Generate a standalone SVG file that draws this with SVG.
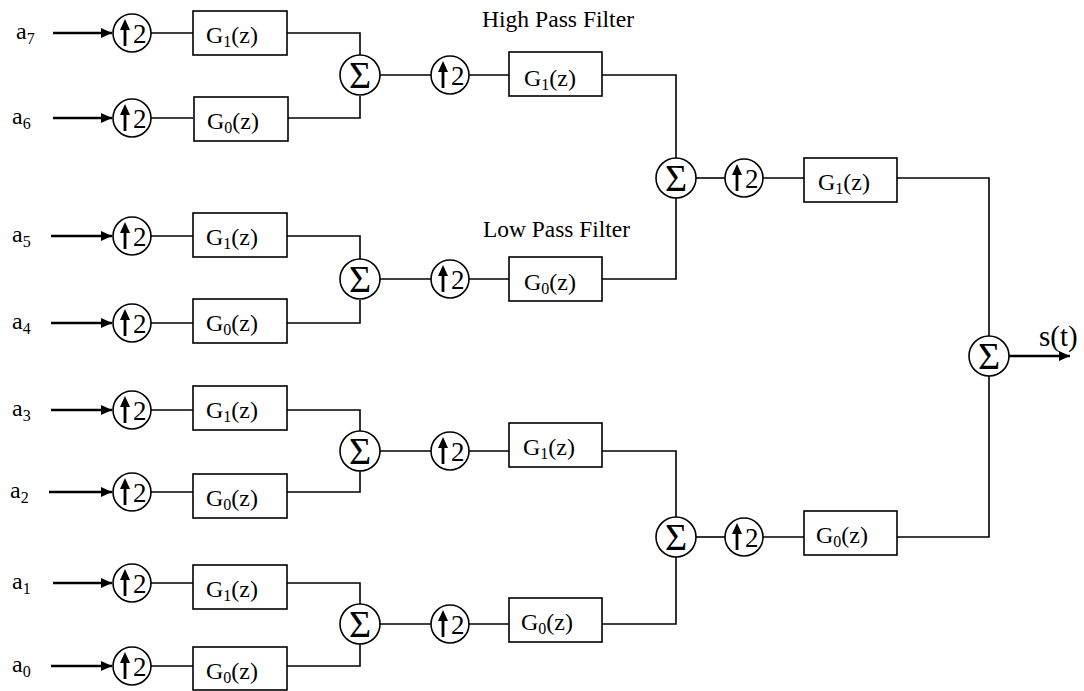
<svg xmlns="http://www.w3.org/2000/svg" width="1084" height="691" viewBox="0 0 1084 691">
<style>
.ln{fill:none;stroke:#000;stroke-width:1.6}
.in{fill:none;stroke:#000;stroke-width:2.6}
.bx{fill:#fff;stroke:#000;stroke-width:1.6}
.cr{fill:#fff;stroke:#000;stroke-width:1.6}
.t{font-family:"Liberation Serif","Times New Roman",serif;fill:#000}
.g{font-size:24px}
.sub{font-size:16px}
.two{font-size:27px}
.sig{font-size:38px;text-anchor:middle}
.lab{font-size:24px}
.ttl{font-size:24px}
.ua{stroke:#000;stroke-width:2.8}
</style>
<defs>
<marker id="ah" markerUnits="userSpaceOnUse" markerWidth="12" markerHeight="10" refX="11" refY="5" orient="auto">
<path d="M0,0 L11,5 L0,10 Z" fill="#000"/>
</marker>
</defs>

<g id="connectors">
<line class="in" x1="53" y1="33" x2="112" y2="33" marker-end="url(#ah)"/>
<line class="in" x1="53" y1="118" x2="112" y2="118" marker-end="url(#ah)"/>
<line class="in" x1="51" y1="236" x2="112" y2="236" marker-end="url(#ah)"/>
<line class="in" x1="51" y1="323" x2="112" y2="323" marker-end="url(#ah)"/>
<line class="in" x1="51" y1="410" x2="112" y2="410" marker-end="url(#ah)"/>
<line class="in" x1="49" y1="492" x2="112" y2="492" marker-end="url(#ah)"/>
<line class="in" x1="53" y1="583" x2="112" y2="583" marker-end="url(#ah)"/>
<line class="in" x1="51" y1="666" x2="112" y2="666" marker-end="url(#ah)"/>
<line class="ln" x1="151" y1="33" x2="193" y2="33"/>
<line class="ln" x1="151" y1="118" x2="193" y2="118"/>
<line class="ln" x1="151" y1="236" x2="193" y2="236"/>
<line class="ln" x1="151" y1="323" x2="193" y2="323"/>
<line class="ln" x1="151" y1="410" x2="193" y2="410"/>
<line class="ln" x1="151" y1="492" x2="193" y2="492"/>
<line class="ln" x1="151" y1="583" x2="193" y2="583"/>
<line class="ln" x1="151" y1="666" x2="193" y2="666"/>
<polyline class="ln" points="287,33 360,33 360,55"/>
<polyline class="ln" points="287,118 360,118 360,96"/>
<polyline class="ln" points="287,236 360,236 360,259"/>
<polyline class="ln" points="287,323 360,323 360,300"/>
<polyline class="ln" points="287,410 360,410 360,431"/>
<polyline class="ln" points="287,492 360,492 360,471"/>
<polyline class="ln" points="287,583 360,583 360,604"/>
<polyline class="ln" points="287,666 360,666 360,644"/>
<line class="ln" x1="380" y1="75" x2="431" y2="75"/>
<line class="ln" x1="469" y1="75" x2="509" y2="75"/>
<line class="ln" x1="380" y1="279" x2="431" y2="279"/>
<line class="ln" x1="469" y1="279" x2="509" y2="279"/>
<line class="ln" x1="380" y1="451" x2="431" y2="451"/>
<line class="ln" x1="469" y1="451" x2="509" y2="451"/>
<line class="ln" x1="380" y1="624" x2="431" y2="624"/>
<line class="ln" x1="469" y1="624" x2="509" y2="624"/>
<polyline class="ln" points="602,75 676,75 676,158"/>
<polyline class="ln" points="602,279 676,279 676,198"/>
<polyline class="ln" points="602,451 676,451 676,517"/>
<polyline class="ln" points="602,624 676,624 676,557"/>
<line class="ln" x1="696" y1="178" x2="725" y2="178"/>
<line class="ln" x1="763" y1="178" x2="804" y2="178"/>
<line class="ln" x1="696" y1="537" x2="725" y2="537"/>
<line class="ln" x1="763" y1="537" x2="804" y2="537"/>
<polyline class="ln" points="897,178 989,178 989,336"/>
<polyline class="ln" points="897,537 989,537 989,376"/>
<line class="in" x1="1009" y1="356" x2="1070" y2="356" marker-end="url(#ah)"/>
</g>

<g id="labels">
<text class="t lab" x="16" y="39">a<tspan class="sub" dy="5">7</tspan></text>
<text class="t lab" x="12" y="124">a<tspan class="sub" dy="5">6</tspan></text>
<text class="t lab" x="12" y="242">a<tspan class="sub" dy="5">5</tspan></text>
<text class="t lab" x="12" y="329">a<tspan class="sub" dy="5">4</tspan></text>
<text class="t lab" x="12" y="416">a<tspan class="sub" dy="5">3</tspan></text>
<text class="t lab" x="10" y="498">a<tspan class="sub" dy="5">2</tspan></text>
<text class="t lab" x="12" y="589">a<tspan class="sub" dy="5">1</tspan></text>
<text class="t lab" x="12" y="672">a<tspan class="sub" dy="5">0</tspan></text>
<text class="t ttl" x="482" y="27" textLength="152" lengthAdjust="spacingAndGlyphs">High Pass Filter</text>
<text class="t ttl" x="483" y="237" textLength="147" lengthAdjust="spacingAndGlyphs">Low Pass Filter</text>
<text class="t" x="1039" y="346" font-size="29">s(t)</text>
</g>

<g id="up_a7" transform="translate(132,33)"><circle class="cr" r="19"/><line class="ua" x1="-7" y1="13" x2="-7" y2="-4"/><path d="M-7,-14 L-12,-3 L-2,-3 Z"/><text class="t two" x="1" y="10">2</text></g>
<g id="up_a6" transform="translate(132,118)"><circle class="cr" r="19"/><line class="ua" x1="-7" y1="13" x2="-7" y2="-4"/><path d="M-7,-14 L-12,-3 L-2,-3 Z"/><text class="t two" x="1" y="10">2</text></g>
<g id="up_a5" transform="translate(132,236)"><circle class="cr" r="19"/><line class="ua" x1="-7" y1="13" x2="-7" y2="-4"/><path d="M-7,-14 L-12,-3 L-2,-3 Z"/><text class="t two" x="1" y="10">2</text></g>
<g id="up_a4" transform="translate(132,323)"><circle class="cr" r="19"/><line class="ua" x1="-7" y1="13" x2="-7" y2="-4"/><path d="M-7,-14 L-12,-3 L-2,-3 Z"/><text class="t two" x="1" y="10">2</text></g>
<g id="up_a3" transform="translate(132,410)"><circle class="cr" r="19"/><line class="ua" x1="-7" y1="13" x2="-7" y2="-4"/><path d="M-7,-14 L-12,-3 L-2,-3 Z"/><text class="t two" x="1" y="10">2</text></g>
<g id="up_a2" transform="translate(132,492)"><circle class="cr" r="19"/><line class="ua" x1="-7" y1="13" x2="-7" y2="-4"/><path d="M-7,-14 L-12,-3 L-2,-3 Z"/><text class="t two" x="1" y="10">2</text></g>
<g id="up_a1" transform="translate(132,583)"><circle class="cr" r="19"/><line class="ua" x1="-7" y1="13" x2="-7" y2="-4"/><path d="M-7,-14 L-12,-3 L-2,-3 Z"/><text class="t two" x="1" y="10">2</text></g>
<g id="up_a0" transform="translate(132,666)"><circle class="cr" r="19"/><line class="ua" x1="-7" y1="13" x2="-7" y2="-4"/><path d="M-7,-14 L-12,-3 L-2,-3 Z"/><text class="t two" x="1" y="10">2</text></g>

<g id="g_a7"><rect class="bx" x="193" y="11" width="94" height="44"/><text class="t g" x="206" y="43">G<tspan class="sub" dy="4">1</tspan><tspan dy="-4">(z)</tspan></text></g>
<g id="g_a6"><rect class="bx" x="194" y="97" width="94" height="44"/><text class="t g" x="207" y="129">G<tspan class="sub" dy="4">0</tspan><tspan dy="-4">(z)</tspan></text></g>
<g id="g_a5"><rect class="bx" x="193" y="213" width="94" height="44"/><text class="t g" x="206" y="245">G<tspan class="sub" dy="4">1</tspan><tspan dy="-4">(z)</tspan></text></g>
<g id="g_a4"><rect class="bx" x="193" y="299" width="94" height="44"/><text class="t g" x="206" y="331">G<tspan class="sub" dy="4">0</tspan><tspan dy="-4">(z)</tspan></text></g>
<g id="g_a3"><rect class="bx" x="193" y="386" width="94" height="44"/><text class="t g" x="206" y="418">G<tspan class="sub" dy="4">1</tspan><tspan dy="-4">(z)</tspan></text></g>
<g id="g_a2"><rect class="bx" x="193" y="474" width="94" height="44"/><text class="t g" x="206" y="506">G<tspan class="sub" dy="4">0</tspan><tspan dy="-4">(z)</tspan></text></g>
<g id="g_a1"><rect class="bx" x="193" y="565" width="94" height="44"/><text class="t g" x="206" y="597">G<tspan class="sub" dy="4">1</tspan><tspan dy="-4">(z)</tspan></text></g>
<g id="g_a0"><rect class="bx" x="193" y="647" width="94" height="43"/><text class="t g" x="206" y="679">G<tspan class="sub" dy="4">0</tspan><tspan dy="-4">(z)</tspan></text></g>

<g id="sum_76"><circle class="cr" cx="360" cy="75" r="20"/><text class="t sig" x="360" y="88">Σ</text></g>
<g id="sum_54"><circle class="cr" cx="360" cy="279" r="20"/><text class="t sig" x="360" y="292">Σ</text></g>
<g id="sum_32"><circle class="cr" cx="360" cy="451" r="20"/><text class="t sig" x="360" y="464">Σ</text></g>
<g id="sum_10"><circle class="cr" cx="360" cy="624" r="20"/><text class="t sig" x="360" y="637">Σ</text></g>

<g id="up2_a" transform="translate(450,75)"><circle class="cr" r="19"/><line class="ua" x1="-7" y1="13" x2="-7" y2="-4"/><path d="M-7,-14 L-12,-3 L-2,-3 Z"/><text class="t two" x="1" y="10">2</text></g>
<g id="up2_b" transform="translate(450,279)"><circle class="cr" r="19"/><line class="ua" x1="-7" y1="13" x2="-7" y2="-4"/><path d="M-7,-14 L-12,-3 L-2,-3 Z"/><text class="t two" x="1" y="10">2</text></g>
<g id="up2_c" transform="translate(450,451)"><circle class="cr" r="19"/><line class="ua" x1="-7" y1="13" x2="-7" y2="-4"/><path d="M-7,-14 L-12,-3 L-2,-3 Z"/><text class="t two" x="1" y="10">2</text></g>
<g id="up2_d" transform="translate(450,624)"><circle class="cr" r="19"/><line class="ua" x1="-7" y1="13" x2="-7" y2="-4"/><path d="M-7,-14 L-12,-3 L-2,-3 Z"/><text class="t two" x="1" y="10">2</text></g>

<g id="g2_a"><rect class="bx" x="509" y="52" width="93" height="44"/><text class="t g" x="524" y="86">G<tspan class="sub" dy="4">1</tspan><tspan dy="-4">(z)</tspan></text></g>
<g id="g2_b"><rect class="bx" x="509" y="257" width="93" height="44"/><text class="t g" x="524" y="290">G<tspan class="sub" dy="4">0</tspan><tspan dy="-4">(z)</tspan></text></g>
<g id="g2_c"><rect class="bx" x="509" y="423" width="93" height="44"/><text class="t g" x="523" y="455">G<tspan class="sub" dy="4">1</tspan><tspan dy="-4">(z)</tspan></text></g>
<g id="g2_d"><rect class="bx" x="509" y="598" width="93" height="44"/><text class="t g" x="521" y="630">G<tspan class="sub" dy="4">0</tspan><tspan dy="-4">(z)</tspan></text></g>

<g id="sum2_hi"><circle class="cr" cx="676" cy="178" r="20"/><text class="t sig" x="676" y="191">Σ</text></g>
<g id="sum2_lo"><circle class="cr" cx="676" cy="537" r="20"/><text class="t sig" x="676" y="550">Σ</text></g>

<g id="up3_a" transform="translate(744,178)"><circle class="cr" r="19"/><line class="ua" x1="-7" y1="13" x2="-7" y2="-4"/><path d="M-7,-14 L-12,-3 L-2,-3 Z"/><text class="t two" x="1" y="10">2</text></g>
<g id="up3_b" transform="translate(744,537)"><circle class="cr" r="19"/><line class="ua" x1="-7" y1="13" x2="-7" y2="-4"/><path d="M-7,-14 L-12,-3 L-2,-3 Z"/><text class="t two" x="1" y="10">2</text></g>

<g id="g3_a"><rect class="bx" x="804" y="158" width="93" height="44"/><text class="t g" x="818" y="190">G<tspan class="sub" dy="4">1</tspan><tspan dy="-4">(z)</tspan></text></g>
<g id="g3_b"><rect class="bx" x="804" y="511" width="93" height="44"/><text class="t g" x="816" y="543">G<tspan class="sub" dy="4">0</tspan><tspan dy="-4">(z)</tspan></text></g>

<g id="sum_out"><circle class="cr" cx="989" cy="356" r="20"/><text class="t sig" x="989" y="369">Σ</text></g>
</svg>
